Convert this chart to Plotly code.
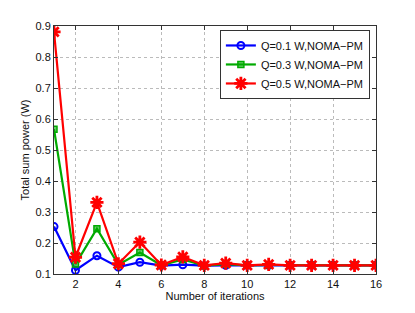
import plotly.graph_objects as go

iterations = list(range(1, 17))
q01 = [0.253, 0.112, 0.159, 0.122, 0.138, 0.127, 0.130, 0.127, 0.128, 0.128, 0.128, 0.128, 0.128, 0.128, 0.128, 0.128]
q03 = [0.567, 0.132, 0.246, 0.130, 0.169, 0.128, 0.147, 0.127, 0.132, 0.128, 0.129, 0.128, 0.128, 0.128, 0.128, 0.128]
q05 = [0.881, 0.154, 0.331, 0.133, 0.203, 0.129, 0.155, 0.128, 0.135, 0.128, 0.131, 0.128, 0.128, 0.128, 0.128, 0.128]
names = ["Q=0.1 W,NOMA\u2212PM", "Q=0.3 W,NOMA\u2212PM", "Q=0.5 W,NOMA\u2212PM"]
colors = ["#0000ff", "#00aa00", "#ff0000"]
symbols = ["circle-open", "square", "asterisk-open"]

fig = go.Figure()
for ys, nm, c, s in zip([q01, q03, q05], names, colors, symbols):
    mk = dict(symbol=s, size=7, color=c, line=dict(color=c, width=2))
    if s == "square":
        mk = dict(symbol="square", size=6, color="rgba(0,170,0,0.6)", line=dict(color=c, width=1.5))
    if s == "asterisk-open":
        mk = dict(symbol="asterisk-open", size=11, color=c, line=dict(color=c, width=2.8))
    fig.add_trace(go.Scatter(x=iterations, y=ys, mode="lines+markers", name=nm,
                             line=dict(color=c, width=2.2), marker=mk))

axis_common = dict(showline=True, linecolor="#333", linewidth=1, mirror="ticks",
                   ticks="inside", ticklen=4, tickcolor="#333",
                   showgrid=True, gridcolor="#bbbbbb", griddash="dot", gridwidth=1,
                   zeroline=False, tickfont=dict(size=11, color="#111"))
# page body has an 8px margin, so the figure is shrunk by 8px and margins shifted
fig.update_layout(
    width=407, height=305,
    margin=dict(l=46, r=39, t=15, b=36),
    plot_bgcolor="white", paper_bgcolor="white",
    font=dict(family="Liberation Sans, Arial, sans-serif", size=11, color="#111"),
    xaxis=dict(range=[1, 16], tick0=2, dtick=2, title=dict(text="Number of iterations", standoff=3, font=dict(size=11)), **axis_common),
    yaxis=dict(range=[0.1, 0.9], dtick=0.1, tickformat=".1f", title=dict(text="Total sum power (W)", standoff=3, font=dict(size=11)), **axis_common),
    legend=dict(x=0.981, y=0.984, xanchor="right", yanchor="top", bgcolor="white",
                bordercolor="#333", borderwidth=1, font=dict(size=11), tracegroupgap=0,
                itemwidth=30),
    showlegend=True,
)
fig.write_html("out.html")
